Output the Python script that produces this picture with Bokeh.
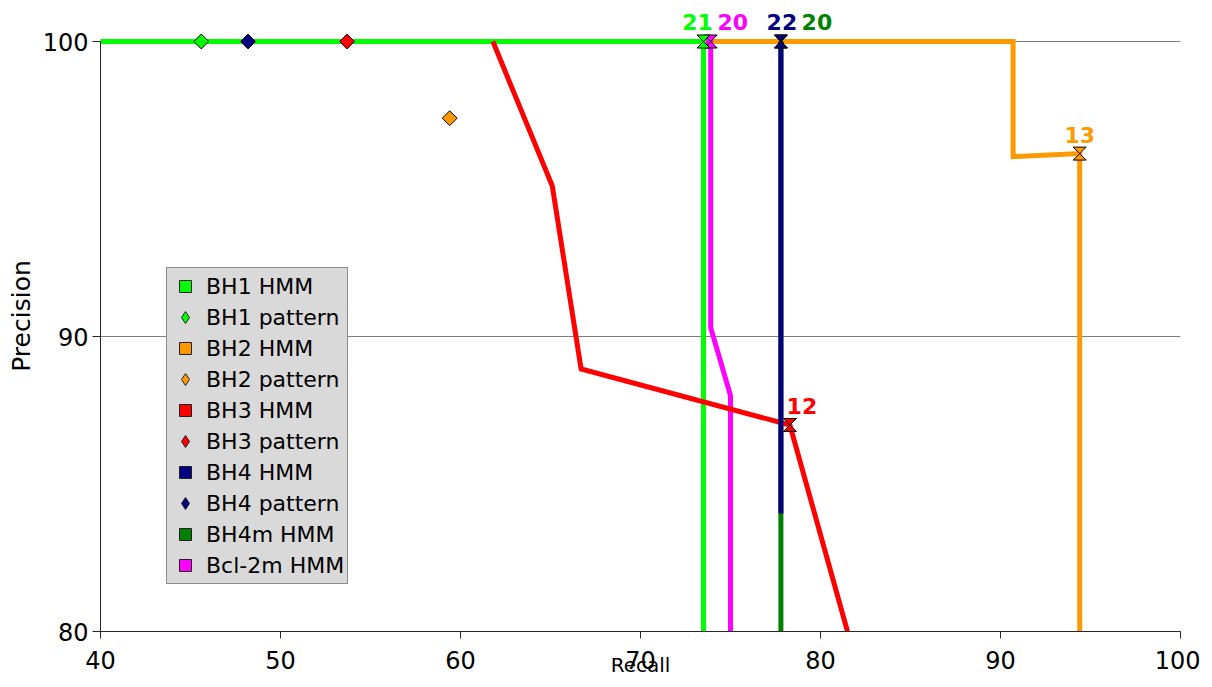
from bokeh.plotting import figure
from bokeh.models import (Range1d, FixedTicker, Legend, LegendItem, ColumnDataSource)
from bokeh.core.properties import value
from bokeh.embed import file_html
from bokeh.resources import INLINE
import math

# ---------------- data ----------------
bh1_hmm_recall = [40.0, 73.5, 73.5]
bh1_hmm_prec = [100.0, 100.0, 80.0]

bh2_hmm_recall = [40.0, 90.7, 90.7, 94.4, 94.4]
bh2_hmm_prec = [100.0, 100.0, 96.1, 96.2, 80.0]

bh3_hmm_recall = [61.8, 65.1, 66.7, 78.3, 81.5]
bh3_hmm_prec = [100.0, 95.1, 88.9, 87.0, 80.0]

bh4_hmm_recall = [77.8, 77.8]
bh4_hmm_prec = [100.0, 84.0]

bh4m_hmm_recall = [77.8, 77.8]
bh4m_hmm_prec = [100.0, 80.0]

bcl2m_hmm_recall = [40.0, 73.9, 73.9, 75.0, 75.0]
bcl2m_hmm_prec = [100.0, 100.0, 90.3, 88.0, 80.0]

# pattern results (single points)
pattern_names = ["BH1 pattern", "BH2 pattern", "BH3 pattern", "BH4 pattern"]
pattern_recall = [45.6, 59.4, 53.7, 48.2]
pattern_prec = [100.0, 97.4, 100.0, 100.0]

# labelled (marked) point of each HMM curve: index into the series, and its label
marked_index = {"BH1 HMM": 1, "BH2 HMM": 3, "BH3 HMM": 3, "BH4 HMM": 0,
                "BH4m HMM": 0, "Bcl-2m HMM": 1}
marked_label = {"BH1 HMM": "21", "BH2 HMM": "13", "BH3 HMM": "12", "BH4 HMM": "22",
                "BH4m HMM": "20", "Bcl-2m HMM": "20"}

x_ticks = [40, 50, 60, 70, 80, 90, 100]
y_ticks = [80, 90, 100]

# ---------------- styles ----------------
colors = {
    "BH1 HMM": "#00FF00", "BH1 pattern": "#00FF00",
    "BH2 HMM": "#FF9900", "BH2 pattern": "#FF9900",
    "BH3 HMM": "#FF0000", "BH3 pattern": "#FF0000",
    "BH4 HMM": "#000080", "BH4 pattern": "#000080",
    "BH4m HMM": "#008000", "Bcl-2m HMM": "#FF00FF",
}
hmm_series = {
    "BH1 HMM": (bh1_hmm_recall, bh1_hmm_prec),
    "BH2 HMM": (bh2_hmm_recall, bh2_hmm_prec),
    "BH3 HMM": (bh3_hmm_recall, bh3_hmm_prec),
    "BH4 HMM": (bh4_hmm_recall, bh4_hmm_prec),
    "BH4m HMM": (bh4m_hmm_recall, bh4m_hmm_prec),
    "Bcl-2m HMM": (bcl2m_hmm_recall, bcl2m_hmm_prec),
}
# drawing order of the lines (bottom -> top)
line_order = ["BH2 HMM", "Bcl-2m HMM", "BH4m HMM", "BH1 HMM", "BH3 HMM", "BH4 HMM"]
marker_order = ["BH4m HMM", "Bcl-2m HMM", "BH1 HMM", "BH4 HMM", "BH3 HMM", "BH2 HMM"]
label_offsets = {"BH1 HMM": (-6, -20), "Bcl-2m HMM": (22, -20), "BH4 HMM": (1, -20),
                 "BH4m HMM": (36, -20), "BH3 HMM": (12, -19), "BH2 HMM": (0, -19)}
legend_order = ["BH1 HMM", "BH1 pattern", "BH2 HMM", "BH2 pattern", "BH3 HMM",
                "BH3 pattern", "BH4 HMM", "BH4 pattern", "BH4m HMM", "Bcl-2m HMM"]

FONT = "DejaVu Sans"
W, H = 1200, 685
B_LEFT, B_RIGHT, B_TOP = 100, 20, 0
PX_PER_Y = 590 / 20.0
FRAME_H = 631
B_BOTTOM = H - FRAME_H - B_TOP
Y_TOP = 80 + FRAME_H / PX_PER_Y
HG_DX, HG_DY = 0.36, 0.22   # hourglass marker half size (data units)

p = figure(width=W, height=H,
           x_range=Range1d(40, 100), y_range=Range1d(80, Y_TOP),
           output_backend="svg", toolbar_location=None,
           min_border_left=B_LEFT, min_border_right=B_RIGHT,
           min_border_top=B_TOP, min_border_bottom=B_BOTTOM,
           background_fill_color="white", border_fill_color="white")
p.outline_line_color = None

# axes
p.xaxis.ticker = FixedTicker(ticks=x_ticks)
p.yaxis.ticker = FixedTicker(ticks=y_ticks)
p.yaxis.bounds = (80, 100)
for ax in (p.xaxis[0], p.yaxis[0]):
    ax.axis_line_color = "#262626"
    ax.axis_line_width = 1
    ax.major_tick_line_color = "#262626"
    ax.major_tick_in = 0
    ax.minor_tick_line_color = None
    ax.major_label_text_font = FONT
    ax.major_label_text_font_size = "24px"
    ax.major_label_text_color = "black"
    ax.axis_label_text_font = FONT
    ax.axis_label_text_font_style = "normal"
    ax.axis_label_text_color = "black"
p.yaxis.major_tick_out = 8
p.yaxis.major_label_standoff = 4
p.yaxis.axis_label = "Precision"
p.yaxis.axis_label_text_font_size = "25px"
p.yaxis.axis_label_standoff = 4
p.xaxis.major_tick_out = 7
p.xaxis.major_label_standoff = 12
p.xaxis.axis_label = "Recall"
p.xaxis.axis_label_text_font_size = "20px"
p.xaxis.axis_label_standoff = -19

p.xgrid.grid_line_color = None
p.ygrid.ticker = FixedTicker(ticks=y_ticks)
p.ygrid.grid_line_color = "#7f7f7f"
p.ygrid.grid_line_width = 1

# HMM curves
for name in line_order:
    xs, ys = hmm_series[name]
    p.line(xs, ys, line_color=colors[name], line_width=5, line_join="miter")

# pattern points (diamonds)
p.scatter(pattern_recall, pattern_prec, marker="square", angle=math.pi / 4, size=10.5,
          fill_color=[colors[n] for n in pattern_names], line_color="black", line_width=1)

# hourglass markers on the marked HMM points
hx, hy, hc = [], [], []
for name in marker_order:
    xs, ys = hmm_series[name]
    i = marked_index[name]
    x0, y0 = xs[i], ys[i]
    hx.append([x0 - HG_DX, x0 + HG_DX, x0, x0 + HG_DX, x0 - HG_DX, x0])
    hy.append([y0 + HG_DY, y0 + HG_DY, y0, y0 - HG_DY, y0 - HG_DY, y0])
    hc.append(colors[name])
p.patches(hx, hy, fill_color=hc, line_color="black", line_width=1)

# data labels
lx, ly, lt, lc, lox, loy = [], [], [], [], [], []
for name in marker_order:
    xs, ys = hmm_series[name]
    i = marked_index[name]
    lx.append(xs[i]); ly.append(ys[i]); lt.append(marked_label[name]); lc.append(colors[name])
    lox.append(label_offsets[name][0]); loy.append(label_offsets[name][1])
src = ColumnDataSource(dict(x=lx, y=ly, t=lt, c=lc, ox=lox, oy=loy))
p.text(x="x", y="y", text="t", source=src, text_color="c", x_offset="ox", y_offset="oy",
       text_font=value(FONT), text_font_style="bold", text_font_size="22px",
       text_align="center", text_baseline="middle")

# legend (legend-only renderers, with a NaN point so nothing shows in the plot)
items = []
for name in legend_order:
    mk = "diamond" if "pattern" in name else "square"
    r = p.scatter(x=[float("nan")], y=[float("nan")], marker=mk, size=12,
                  fill_color=colors[name], line_color="#202020", line_width=1)
    items.append(LegendItem(label=name, renderers=[r]))
legend = Legend(items=items, location=(66, 47), margin=0, padding=3, spacing=1,
                glyph_width=30, glyph_height=30, label_height=30, label_standoff=6,
                label_text_font=FONT, label_text_font_size="22px", label_text_color="black",
                background_fill_color="#D9D9D9", background_fill_alpha=1.0,
                border_line_color="#404040", border_line_width=1)
p.add_layout(legend)

open("out.html", "w").write(file_html(p, INLINE))
